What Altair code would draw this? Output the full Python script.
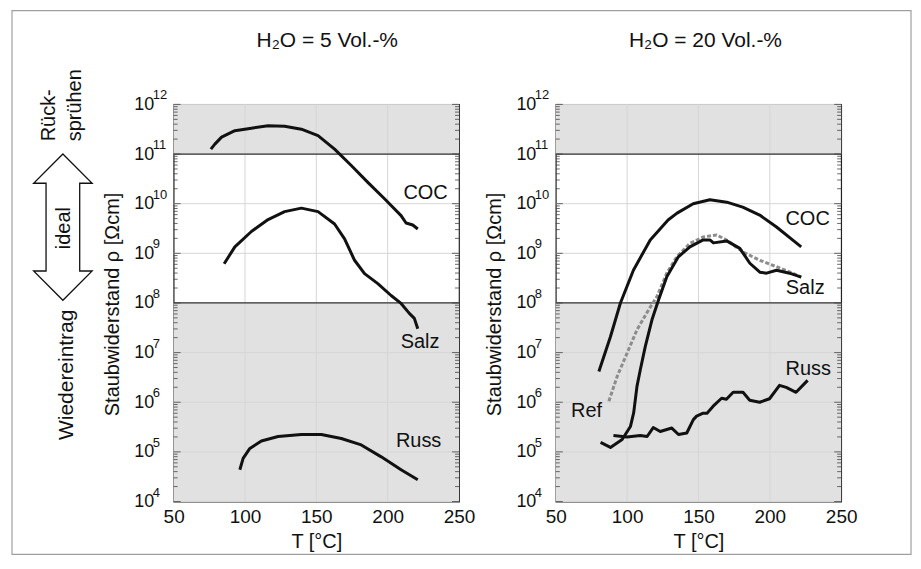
import altair as alt
import pandas as pd

FONT = "Liberation Sans"
W, H = 286, 398

# ---------------- data: T [°C] and log10(rho [Ωcm]) ----------------
# Panel 1: H2O = 5 Vol.-%
coc5_T = [76.1, 78.9, 83.6, 92.9, 104.5, 116.2, 127.8, 139.5, 151.2, 162.8, 174.5, 186.1, 197.8, 209.4, 212.9, 217.6, 221.1]
coc5_lg = [11.10, 11.20, 11.34, 11.47, 11.52, 11.57, 11.56, 11.50, 11.37, 11.10, 10.77, 10.43, 10.10, 9.76, 9.61, 9.57, 9.49]

salz5_T = [85.4, 92.9, 104.5, 116.2, 127.8, 139.5, 151.2, 162.8, 169.8, 176.8, 183.8, 193.1, 202.4, 209.4, 215.2, 218.7, 221.1]
salz5_lg = [8.79, 9.13, 9.44, 9.68, 9.84, 9.91, 9.84, 9.59, 9.29, 8.86, 8.59, 8.39, 8.15, 7.99, 7.79, 7.69, 7.48]

russ5_T = [96.4, 98.7, 103.4, 111.5, 123.2, 139.5, 153.5, 167.5, 181.5, 195.5, 209.4, 221.1]
russ5_lg = [4.64, 4.87, 5.07, 5.22, 5.31, 5.35, 5.35, 5.27, 5.14, 4.90, 4.64, 4.44]

# Panel 2: H2O = 20 Vol.-%
coc20_T = [80.2, 88.3, 95.3, 104.4, 116.2, 128.7, 135.0, 146.3, 158.0, 169.8, 181.0, 192.9, 204.7, 215.9, 222.0]
coc20_lg = [6.62, 7.32, 8.00, 8.66, 9.27, 9.67, 9.81, 10.00, 10.08, 10.03, 9.93, 9.77, 9.53, 9.27, 9.13]

salz20_T = [81.4, 88.3, 96.5, 102.3, 104.6, 106.9, 109.2, 112.7, 117.4, 122.0, 127.8, 135.9, 144.0, 153.3,
            158.0, 160.5, 169.8, 179.0, 186.0, 193.0, 197.7, 204.7, 213.8, 222.0]
salz20_lg = [5.19, 5.09, 5.25, 5.51, 5.79, 6.32, 6.65, 7.12, 7.66, 8.06, 8.53, 8.93, 9.13, 9.27,
             9.27, 9.21, 9.25, 9.10, 8.80, 8.62, 8.60, 8.66, 8.60, 8.52]

ref20_T = [87.2, 93.0, 100.0, 106.9, 115.0, 120.9, 127.8, 134.8, 144.0, 153.3, 162.7, 169.6, 181.0, 192.9, 204.7, 215.9, 222.0]
ref20_lg = [6.02, 6.52, 6.99, 7.46, 7.86, 8.13, 8.60, 8.93, 9.20, 9.33, 9.37, 9.27, 9.03, 8.86, 8.73, 8.60, 8.52]

russ20_T = [90.4, 100.0, 109.2, 114.0, 118.3, 123.2, 131.3, 136.0, 141.8, 146.4, 148.7, 153.3, 156.0, 160.3,
            166.2, 169.6, 174.3, 181.2, 185.9, 192.9, 199.8, 206.8, 211.5, 218.4, 226.5]
russ20_lg = [5.33, 5.30, 5.33, 5.31, 5.49, 5.41, 5.48, 5.35, 5.38, 5.65, 5.72, 5.78, 5.78, 5.92,
             6.08, 6.06, 6.20, 6.20, 6.04, 6.00, 6.07, 6.34, 6.30, 6.20, 6.44]

# curve labels: (text, T, log10 rho)
labels5 = [("COC", 226.6, 10.21), ("Salz", 222.7, 7.21), ("Russ", 221.7, 5.22)]
labels20 = [("COC", 226.5, 9.70), ("Salz", 224.8, 8.30), ("Russ", 227.0, 6.67), ("Ref", 71.6, 5.82)]

# zones (grey): Rücksprühen above 1e11, Wiedereintrag below 1e8
zone_lo = [1e11, 1e4]
zone_hi = [1e12, 1e8]
zone_limits = [1e11, 1e8]

x_ticks = [50, 100, 150, 200, 250]
exponents = [4, 5, 6, 7, 8, 9, 10, 11, 12]
decades = [10.0 ** e for e in exponents]
minor = [m * 10.0 ** e for e in range(4, 12) for m in range(2, 10)]

titles = ["H\u2082O = 5 Vol.-%", "H\u2082O = 20 Vol.-%"]

# ---------------- shared scales / axes ----------------
xs = alt.Scale(domain=[50, 250], nice=False, zero=False)
ys = alt.Scale(type="log", domain=[1e4, 1e12], nice=False)

XAX = alt.Axis(values=x_ticks, format="d", labelFlush=False, labelPadding=6, labelFontSize=19,
               ticks=False, tickSize=0, domain=False, grid=False, title="T [°C]", titleFontSize=20,
               titlePadding=5)
YAX = alt.Axis(values=decades, labelExpr="'10'", labelAlign="left", labelBaseline="middle",
               labelPadding=40, labelFontSize=18, ticks=False, tickSize=0, domain=False, grid=False,
               title="Staubwiderstand ρ [Ωcm]", titleX=-55, titleY=200, titleAngle=270, titleAlign="center",
               titleBaseline="alphabetic", titleFontSize=20)


def X(f):
    return alt.X(f, scale=xs, axis=XAX, title="T [°C]")


def Y(f):
    return alt.Y(f, scale=ys, axis=YAX, title="Staubwiderstand ρ [Ωcm]")


def curves_df(items):
    rows = []
    for name, T, lg in items:
        for t, v in zip(T, lg):
            rows.append({"s": name, "T": t, "rho": 10 ** v})
    return pd.DataFrame(rows)


def labels_df(items):
    return pd.DataFrame([{"txt": t, "T": x, "rho": 10 ** v} for t, x, v in items])


one = pd.DataFrame({"k": [0]})


def panel(solid, dashed, labels, title, title_x, extras):
    bands = alt.Chart(pd.DataFrame({"x1": [50, 50], "x2": [250, 250], "y1": zone_lo, "y2": zone_hi})).mark_rect(
        color="#e1e1e1"
    ).encode(x=X("x1:Q"), x2="x2:Q", y=Y("y1:Q"), y2="y2:Q")
    gy = alt.Chart(pd.DataFrame({"v": decades})).mark_rule(color="#d6d6d6", strokeWidth=1).encode(y=Y("v:Q"))
    gx = alt.Chart(pd.DataFrame({"v": x_ticks[1:-1]})).mark_rule(color="#d6d6d6", strokeWidth=1).encode(x=X("v:Q"))
    lim = alt.Chart(pd.DataFrame({"v": zone_limits})).mark_rule(color="#333333", strokeWidth=1.2).encode(y=Y("v:Q"))
    mdf = pd.DataFrame({"v": minor})
    ml = alt.Chart(mdf).mark_rule(color="#444", strokeWidth=0.8).encode(y=Y("v:Q"), x=alt.value(0), x2=alt.value(4))
    mr = alt.Chart(mdf).mark_rule(color="#444", strokeWidth=0.8).encode(y=Y("v:Q"), x=alt.value(W - 4), x2=alt.value(W))
    ddf = pd.DataFrame({"v": decades})
    Ml = alt.Chart(ddf).mark_rule(color="#444", strokeWidth=0.8).encode(y=Y("v:Q"), x=alt.value(0), x2=alt.value(7))
    Mr = alt.Chart(ddf).mark_rule(color="#444", strokeWidth=0.8).encode(y=Y("v:Q"), x=alt.value(W - 7), x2=alt.value(W))

    layers = [bands, gy, gx, lim, ml, mr, Ml, Mr]
    if dashed is not None:
        layers.append(
            alt.Chart(curves_df(dashed)).mark_line(color="#8c8c8c", strokeWidth=3, strokeDash=[4, 2]).encode(
                x=X("T:Q"), y=Y("rho:Q"), detail="s:N")
        )
    layers.append(
        alt.Chart(curves_df(solid)).mark_line(color="#111111", strokeWidth=3, strokeJoin="round").encode(
            x=X("T:Q"), y=Y("rho:Q"), detail="s:N")
    )
    layers.append(
        alt.Chart(labels_df(labels)).mark_text(font=FONT, fontSize=20, color="#111", align="center",
                                               baseline="middle").encode(x=X("T:Q"), y=Y("rho:Q"), text="txt:N")
    )
    exp_df = pd.DataFrame({"v": decades, "e": [str(e) for e in exponents]})
    layers.append(
        alt.Chart(exp_df).mark_text(font=FONT, fontSize=13, color="#111", align="left", baseline="middle",
                                    dy=-9).encode(x=alt.value(-21), y=Y("v:Q"), text="e:N")
    )
    layers.append(
        alt.Chart(one).mark_text(text=title, font=FONT, fontSize=21, color="#111", align="center",
                                 baseline="alphabetic").encode(x=alt.value(title_x), y=alt.value(-58))
    )
    layers += extras
    return alt.layer(*layers).properties(width=W, height=H)


# ---------------- annotations left of panel 1 ----------------
arrow_path = ("M0,-1 L0.4,-0.6 L0.23,-0.6 L0.23,0.6 L0.4,0.6 L0,1 "
              "L-0.4,0.6 L-0.23,0.6 L-0.23,-0.6 L-0.4,-0.6 Z")


def vtext(txt, x, y, align, size=20):
    return alt.Chart(one).mark_text(text=txt, font=FONT, fontSize=size, color="#111", angle=270, align=align,
                                    baseline="alphabetic").encode(x=alt.value(x), y=alt.value(y))


extras = [
    vtext("Rück-", -119, 37, "left"),
    vtext("sprühen", -93, 37, "left"),
    alt.Chart(one).mark_point(shape=arrow_path, size=21500, filled=False, stroke="#111", strokeWidth=1.3,
                              opacity=1).encode(x=alt.value(-111), y=alt.value(123)),
    vtext("ideal", -104, 124, "center"),
    vtext("Wiedereintrag", -101, 271, "center", 21),
    alt.Chart(one).mark_rect(fillOpacity=0, stroke="#a0a0a0", strokeWidth=1.2).encode(
        x=alt.value(-162), x2=alt.value(739), y=alt.value(-94), y2=alt.value(451)),
]

left = panel([("COC", coc5_T, coc5_lg), ("Salz", salz5_T, salz5_lg), ("Russ", russ5_T, russ5_lg)],
             None, labels5, titles[0], 154, extras)
right = panel([("COC", coc20_T, coc20_lg), ("Salz", salz20_T, salz20_lg), ("Russ", russ20_T, russ20_lg)],
              [("Ref", ref20_T, ref20_lg)], labels20, titles[1], 150, [])

chart = alt.hconcat(left, right, spacing=97, bounds="flush",
                    padding={"left": 2, "top": 0, "right": 0, "bottom": 0}).configure_view(
    stroke="#222222", strokeWidth=1.2
).configure_axis(
    labelFont=FONT, titleFont=FONT, labelColor="#111111", titleColor="#111111", titleFontWeight="normal"
)

chart.save("out.html", embed_options={"renderer": "svg", "actions": False})
